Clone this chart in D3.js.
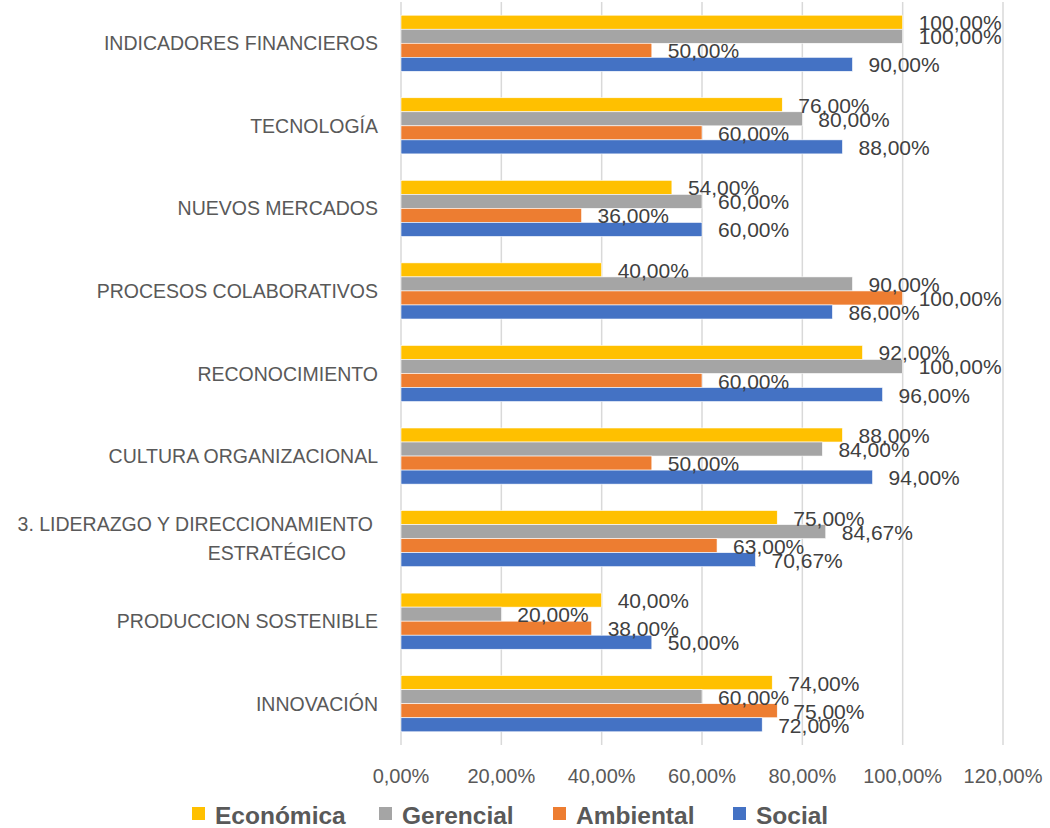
<!DOCTYPE html>
<html>
<head>
<meta charset="utf-8">
<script src="https://cdn.jsdelivr.net/npm/d3@7"></script>
<style>
  body { margin: 0; background: #fff; }
  svg { display: block; font-family: "Liberation Sans", Arial, sans-serif; }
</style>
</head>
<body>
<div id="chart"></div>
<script>
var categories = [
  "INDICADORES FINANCIEROS",
  "TECNOLOGÍA",
  "NUEVOS MERCADOS",
  "PROCESOS COLABORATIVOS",
  "RECONOCIMIENTO",
  "CULTURA ORGANIZACIONAL",
  "3. LIDERAZGO Y DIRECCIONAMIENTO|ESTRATÉGICO",
  "PRODUCCION SOSTENIBLE",
  "INNOVACIÓN"
];
var seriesNames = ["Económica", "Gerencial", "Ambiental", "Social"];
var seriesColors = ["#FFC000", "#A5A5A5", "#ED7D31", "#4472C4"];
var economica = [100, 76, 54, 40, 92, 88, 75, 40, 74];
var gerencial = [100, 80, 60, 90, 100, 84, 84.67, 20, 60];
var ambiental = [50, 60, 36, 100, 60, 50, 63, 38, 75];
var social = [90, 88, 60, 86, 96, 94, 70.67, 50, 72];
var xTicks = [0, 20, 40, 60, 80, 100, 120];

var seriesValues = [economica, gerencial, ambiental, social];

var width = 1050;
var height = 828;
var margin = { top: 2, right: 47, bottom: 83, left: 401 };

var svg = d3.select("#chart").append("svg")
  .attr("width", width)
  .attr("height", height);

var xScale = d3.scaleLinear().domain([0, 120]).range([margin.left, width - margin.right]);
var yScale = d3.scaleBand().domain(categories)
  .range([margin.top, height - margin.bottom])
  .paddingInner(0.32).paddingOuter(0.16);
var sScale = d3.scaleBand().domain(seriesNames).range([0, yScale.bandwidth()]);

function pct(v) {
  return d3.format(".2f")(v).replace(".", ",") + "%";
}

// gridlines
svg.append("g").selectAll("line")
  .data(xTicks)
  .enter().append("line")
  .attr("x1", function(d) { return xScale(d); })
  .attr("x2", function(d) { return xScale(d); })
  .attr("y1", margin.top)
  .attr("y2", height - margin.bottom)
  .attr("stroke", "#D9D9D9")
  .attr("stroke-width", 1.5);

// x axis labels
svg.append("g").selectAll("text")
  .data(xTicks)
  .enter().append("text")
  .attr("x", function(d) { return xScale(d); })
  .attr("y", 783)
  .attr("text-anchor", "middle")
  .attr("font-size", 20)
  .attr("fill", "#595959")
  .text(pct);

// category labels
var catG = svg.append("g");
categories.forEach(function(c) {
  var lines = c.split("|");
  var cy = yScale(c) + yScale.bandwidth() / 2;
  if (lines.length === 1) {
    catG.append("text")
      .attr("x", 378).attr("y", cy + 7)
      .attr("text-anchor", "end")
      .attr("font-size", 19.5).attr("fill", "#595959")
      .text(lines[0]);
  } else {
    catG.append("text")
      .attr("x", 373).attr("y", cy - 8)
      .attr("text-anchor", "end")
      .attr("font-size", 19.5).attr("fill", "#595959")
      .text(lines[0]);
    catG.append("text")
      .attr("x", 346).attr("y", cy + 21)
      .attr("text-anchor", "end")
      .attr("font-size", 19.5).attr("fill", "#595959")
      .text(lines[1]);
  }
});

// bars
var rows = [];
categories.forEach(function(c, i) {
  seriesNames.forEach(function(s, j) {
    rows.push({ cat: c, series: s, color: seriesColors[j], value: seriesValues[j][i] });
  });
});

svg.append("g").selectAll("rect")
  .data(rows)
  .enter().append("rect")
  .attr("x", xScale(0))
  .attr("y", function(d) { return yScale(d.cat) + sScale(d.series); })
  .attr("width", function(d) { return xScale(d.value) - xScale(0); })
  .attr("height", sScale.bandwidth())
  .attr("fill", function(d) { return d.color; })
  .attr("stroke", "#fff")
  .attr("stroke-width", 0.6);

// data labels
svg.append("g").selectAll("text")
  .data(rows)
  .enter().append("text")
  .attr("x", function(d) { return xScale(d.value) + 16; })
  .attr("y", function(d) { return yScale(d.cat) + sScale(d.series) + sScale.bandwidth() / 2 + 8; })
  .attr("font-size", 21)
  .attr("fill", "#404040")
  .text(function(d) { return pct(d.value); });

// legend
var legendX = [192, 379, 553, 733];
var leg = svg.append("g").selectAll("g")
  .data(seriesNames)
  .enter().append("g")
  .attr("transform", function(d, i) { return "translate(" + legendX[i] + ",0)"; });
leg.append("rect")
  .attr("x", 0).attr("y", 807)
  .attr("width", 13).attr("height", 13)
  .attr("fill", function(d, i) { return seriesColors[i]; });
leg.append("text")
  .attr("x", 23).attr("y", 824)
  .attr("font-size", 24.5)
  .attr("font-weight", "bold")
  .attr("fill", "#595959")
  .text(function(d) { return d; });
</script>
</body>
</html>
